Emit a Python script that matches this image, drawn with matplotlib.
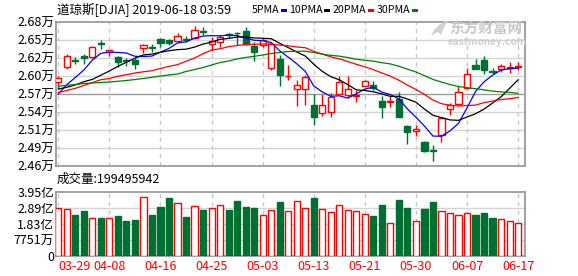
import numpy as np
import matplotlib
matplotlib.use("Agg")
import matplotlib.pyplot as plt
from matplotlib.patches import Rectangle, Polygon

plt.rcParams['font.family'] = ['Noto Sans CJK SC', 'DejaVu Sans']
plt.rcParams['lines.scale_dashes'] = False

# ---------------- data ----------------
dates = ["03-29", "04-01", "04-02", "04-03", "04-04", "04-05", "04-08", "04-09", "04-10", "04-11",
         "04-12", "04-15", "04-16", "04-17", "04-18", "04-22", "04-23", "04-24", "04-25", "04-26",
         "04-29", "04-30", "05-01", "05-02", "05-03", "05-06", "05-07", "05-08", "05-09", "05-10",
         "05-13", "05-14", "05-15", "05-16", "05-17", "05-20", "05-21", "05-22", "05-23", "05-24",
         "05-28", "05-29", "05-30", "05-31", "06-03", "06-04", "06-05", "06-06", "06-07", "06-10",
         "06-11", "06-12", "06-13", "06-14", "06-17"]

opens = [25870, 26106, 26215, 26271, 26256, 26470, 26337, 26260, 26210, 26219,
         26394, 26415, 26533, 26518, 26502, 26545, 26553, 26665, 26461, 26487,
         26610, 26635, 26657, 26425, 26450, 26091, 26234, 25965, 25767, 25771,
         25515, 25397, 25408, 25694, 25679, 25660, 25818, 25824, 25577, 25565,
         25608, 25196, 25125, 24950, 24825, 25053, 25458, 25540, 25778, 26142,
         26214, 26045, 26075, 26095, 26110]
highs = [25967, 26307, 26256, 26307, 26430, 26518, 26372, 26280, 26245, 26240,
         26465, 26465, 26553, 26538, 26630, 26579, 26738, 26718, 26569, 26595,
         26635, 26646, 26723, 26492, 26553, 26476, 26286, 26137, 25901, 25978,
         25690, 25690, 25705, 25963, 25963, 25756, 25910, 25895, 25664, 25664,
         25721, 25210, 25207, 24960, 24908, 25330, 25551, 25808, 26091, 26225,
         26276, 26091, 26152, 26183, 26183]
lows = [25775, 26080, 26148, 26157, 26240, 26388, 26271, 26111, 26117, 26075,
        26327, 26342, 26419, 26441, 26490, 26487, 26540, 26595, 26348, 26414,
        26553, 26441, 26450, 26194, 26410, 26055, 25808, 25901, 25509, 25515,
        25216, 25346, 25340, 25690, 25643, 25562, 25808, 25756, 25320, 25489,
        25330, 24923, 25047, 24795, 24652, 24950, 25371, 25515, 25767, 26075,
        26003, 25998, 26024, 26014, 26065]
closes = [25941, 26271, 26205, 26240, 26410, 26460, 26364, 26179, 26195, 26157,
          26445, 26400, 26481, 26481, 26579, 26530, 26681, 26645, 26512, 26564,
          26598, 26625, 26465, 26342, 26527, 26461, 25987, 25975, 25833, 25947,
          25330, 25525, 25639, 25870, 25767, 25670, 25885, 25782, 25489, 25580,
          25340, 25108, 25145, 24806, 24810, 25320, 25525, 25721, 25998, 26080,
          26064, 26035, 26117, 26105, 26120]
# volume in 亿 (100 million shares)
volumes = [2.93, 2.87, 2.54, 2.73, 2.34, 2.30, 2.34, 2.48, 2.12, 2.18,
           3.63, 2.54, 3.03, 3.58, 3.26, 2.36, 3.07, 2.79, 2.95, 3.14,
           2.79, 3.34, 3.03, 2.91, 2.52, 2.83, 3.28, 2.77, 3.34, 2.95,
           3.58, 2.89, 2.71, 3.14, 2.83, 2.77, 2.59, 2.42, 3.10, 2.03,
           3.46, 2.91, 2.16, 2.85, 3.28, 2.77, 2.65, 2.52, 2.65, 2.54,
           2.61, 2.30, 2.24, 2.16, 1.995]

# moving-average values before enough candles are on screen
ma5_head = [25690, 25835, 25945, 26060]
ma10_head = [25767, 25793, 25830, 25880, 25915, 25980, 26045, 26115, 26180]
ma20_head = [25710, 25744, 25778, 25821, 25867, 25910, 25929, 25963, 25987, 26014,
             26033, 26049, 26083, 26117, 26142, 26194, 26245, 26311, 26368]
ma30_head = [25809, 25824, 25836, 25852, 25859, 25867, 25875, 25886, 25898, 25913,
             25929, 25947, 25967, 25983, 25998, 26037, 26067, 26098, 26137, 26176,
             26199, 26230, 26253, 26271, 26291, 26314, 26330, 26345, 26348]

price_ticks = ["2.46万", "2.49万", "2.51万", "2.54万", "2.57万", "2.60万", "2.62万", "2.65万", "2.68万"]
vol_ticks = ["0", "7751万", "1.83亿", "2.89亿", "3.95亿"]
date_labels = ["03-29", "04-08", "04-16", "04-25", "05-03", "05-13", "05-21", "05-30", "06-07", "06-17"]
title = "道琼斯[DJIA] 2019-06-18 03:59"
vol_title = "成交量:199495942"
ma_names = ["5PMA", "10PMA", "20PMA", "30PMA"]

# ---------------- style ----------------
RED = "#FF0000"
GREEN = "#006F32"
MA_COLORS = ["#0000FF", "#000000", "#FF0000", "#008000"]
GRID = "#D4D4D4"
BORDER = "#9A9A9A"

W, H = 578, 276
fig = plt.figure(figsize=(W / 100, H / 100), dpi=100)


def fx(px):
    return px / W


def fy(py):
    return 1 - py / H


x0, x1 = 56, 525
ax = fig.add_axes([fx(x0), fy(166), fx(x1 - x0), (166 - 22) / H])
axv = fig.add_axes([fx(x0), fy(256), fx(x1 - x0), (256 - 191.5) / H])

n = len(closes)
xs = np.arange(n)
o = np.array(opens, float)
c = np.array(closes, float)
hi = np.array(highs, float)
lo = np.array(lows, float)
up = c >= o

xlim = (-0.27, 54.81)
ymin, ymax = 24580, 26800

# grids
for a, lo_, hi_, nt, mid in [(ax, ymin, ymax, 9, 4), (axv, 0, 3.95, 5, None)]:
    a.set_xlim(*xlim)
    a.set_ylim(lo_, hi_)
    ticks = np.linspace(lo_, hi_, nt)
    for k, t in enumerate(ticks[1:-1], start=1):
        a.axhline(t, color=(BORDER if k == mid else GRID), lw=1.0, zorder=0)
    for gx in range(0, n, 6):
        a.axvline(gx, color="#C8C8C8", lw=1.0, ls=(0, (3, 3)), zorder=0)
    for s in a.spines.values():
        s.set_color(BORDER)
        s.set_linewidth(1.3)
    a.set_yticks(ticks)
    a.tick_params(axis='y', length=0, pad=1.5, labelsize=9, colors="#000000")
    a.tick_params(axis='x', length=0)

ax.set_yticklabels(price_ticks)
axv.set_yticklabels(vol_ticks)
ax.set_xticks([])

# candles
bw = 0.72
for i in range(n):
    col = RED if up[i] else GREEN
    ax.vlines(xs[i], lo[i], hi[i], color=col, lw=1.0, zorder=2)
    bottom = min(o[i], c[i])
    h = max(abs(c[i] - o[i]), 8)
    ax.add_patch(Rectangle((xs[i] - bw / 2, bottom), bw, h,
                           facecolor=("white" if up[i] else GREEN),
                           edgecolor=col, lw=1.0, zorder=3))


# moving averages
def ma(vals, nper, head):
    out = []
    for i in range(len(vals)):
        if i < nper - 1:
            out.append(head[i])
        else:
            out.append(np.mean(vals[i - nper + 1:i + 1]))
    return np.array(out)


mas = [ma(c, 5, ma5_head), ma(c, 10, ma10_head), ma(c, 20, ma20_head), ma(c, 30, ma30_head)]
for m, colr in zip(mas, MA_COLORS):
    ax.plot(xs, m, color=colr, lw=0.9, zorder=4)

# volume bars
for i in range(n):
    if up[i]:
        axv.bar(xs[i], volumes[i], width=bw, facecolor="white", edgecolor=RED, lw=1.0, zorder=3)
    else:
        axv.bar(xs[i], volumes[i], width=bw, facecolor=GREEN, edgecolor=GREEN, lw=1.0, zorder=3)

axv.set_xticks(list(range(0, n, 6)))
axv.set_xticklabels(date_labels, color=RED, fontsize=9)
axv.tick_params(axis='x', pad=3)
lbls = axv.get_xticklabels()
lbls[0].set_horizontalalignment('left')

# texts
fig.text(fx(57), fy(10), title, fontsize=9, va='center', ha='left')
fig.text(fx(57), fy(179), vol_title, fontsize=9, va='center', ha='left')

# legend placed sequentially
renderer = fig.canvas.get_renderer()
cur = 251.5
for name, colr in zip(ma_names, MA_COLORS):
    t = fig.text(fx(cur), fy(10), name, fontsize=7.6, va='center', ha='left')
    bb = t.get_window_extent(renderer=renderer)
    cur = bb.x1 + 1.5
    fig.patches.append(Rectangle((fx(cur), fy(11.5)), fx(6), 2.6 / H, transform=fig.transFigure,
                                 facecolor=colr, edgecolor='none'))
    cur += 6 + 2.7

# watermark
logo = [(431, 36), (434, 30), (439, 25), (445, 21.5), (450, 20.5), (446, 24), (443, 29),
        (441, 35), (438, 32), (435, 33)]
fig.patches.append(Polygon([(fx(px), fy(py)) for px, py in logo], closed=True,
                           transform=fig.transFigure, facecolor="#D0D0D0", edgecolor='none'))
fig.text(fx(486), fy(28.5), "东方财富网", fontsize=10.5, fontweight='bold', color="#C8C8C8",
         va='center', ha='center')
fig.text(fx(487), fy(41.7), "eastmoney.com", fontsize=7.2, fontweight='bold', color="#CDCDCD",
         va='center', ha='center')

fig.savefig("out.png", dpi=100)
